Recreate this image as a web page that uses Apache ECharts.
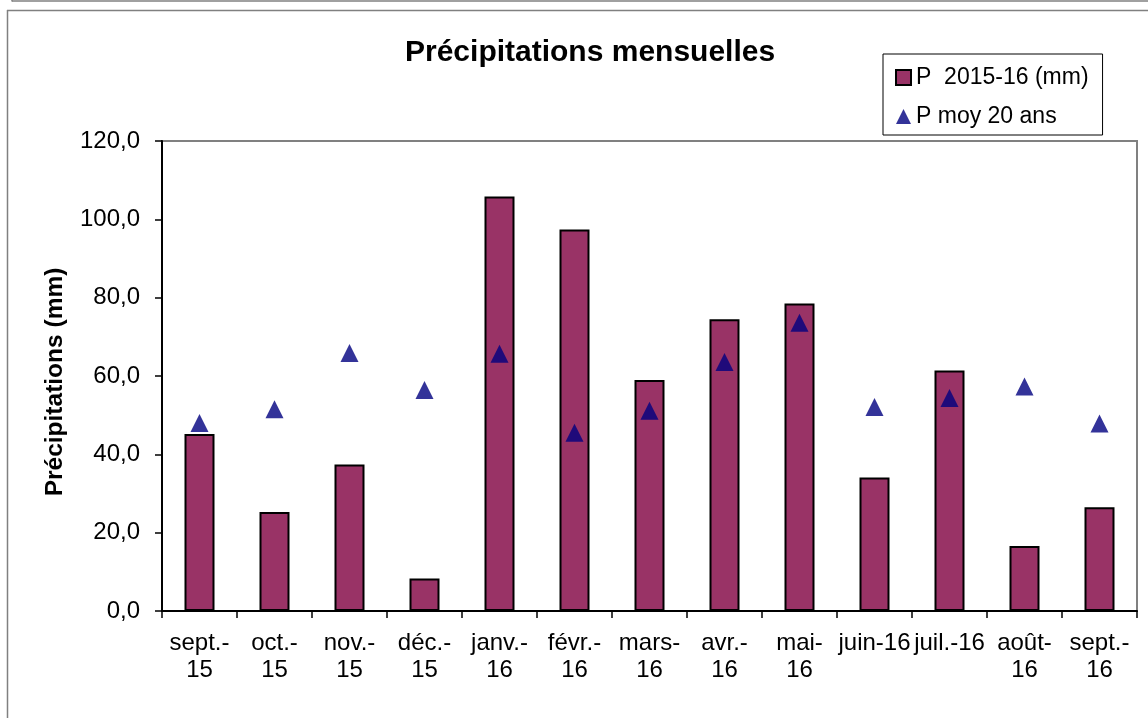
<!DOCTYPE html>
<html>
<head>
<meta charset="utf-8">
<script src="https://cdn.jsdelivr.net/npm/echarts@6/dist/echarts.min.js"></script>
<style>
html,body{margin:0;padding:0;background:#fff;}
#chart{width:1148px;height:718px;}
</style>
</head>
<body>
<div id="chart"></div>
<script>
var categories = ['sept.-\n15','oct.-\n15','nov.-\n15','déc.-\n15','janv.-\n16','févr.-\n16','mars-\n16','avr.-\n16','mai-\n16','juin-16','juil.-16','août-\n16','sept.-\n16'];
var precip2015_16 = [45.2, 25.3, 37.4, 8.3, 105.8, 97.4, 59.0, 74.5, 78.5, 34.1, 61.4, 16.6, 26.5];
var moy20ans = [48.0, 51.5, 65.9, 56.4, 65.7, 45.5, 51.1, 63.6, 73.6, 52.1, 54.4, 57.3, 47.9];
var titleText = 'Précipitations mensuelles';
var yAxisName = 'Précipitations (mm)';
var seriesNames = ['P  2015-16 (mm)', 'P moy 20 ans'];

var font = '"Liberation Sans", Arial, sans-serif';
var chart = echarts.init(document.getElementById('chart'));
chart.setOption({
  backgroundColor: '#fff',
  animation: false,
  title: {
    text: titleText,
    left: 400,
    top: 33,
    textStyle: {fontFamily: font, fontSize: 30, fontWeight: 'bold', color: '#000'}
  },
  legend: {
    orient: 'vertical',
    left: 883,
    top: 54,
    padding: [12, 14, 7, 12],
    itemGap: 16,
    itemWidth: 15,
    itemHeight: 15,
    borderColor: '#000',
    borderWidth: 1,
    textStyle: {fontFamily: font, fontSize: 23, color: '#000', lineHeight: 22},
    data: [
      {name: seriesNames[0], icon: 'rect'},
      {name: seriesNames[1], icon: 'triangle'}
    ]
  },
  grid: {
    left: 162, top: 141, right: 11, bottom: 107,
    show: true, borderColor: '#808080', borderWidth: 2, backgroundColor: '#fff'
  },
  xAxis: {
    type: 'category',
    data: categories,
    boundaryGap: true,
    axisLine: {lineStyle: {color: '#000', width: 2}},
    axisTick: {show: true, interval: 0, length: 7, lineStyle: {color: '#000', width: 1.5}},
    axisLabel: {interval: 0, margin: 19, fontFamily: font, fontSize: 24, color: '#000', lineHeight: 27}
  },
  yAxis: {
    type: 'value',
    min: 0, max: 120, interval: 20,
    name: yAxisName,
    nameLocation: 'middle',
    nameRotate: 90,
    nameGap: 94,
    nameTextStyle: {fontFamily: font, fontSize: 24.5, fontWeight: 'bold', color: '#000', padding: [0, 12, 0, 0]},
    splitLine: {show: false},
    axisLine: {show: true, lineStyle: {color: '#000', width: 2}},
    axisTick: {show: true, length: 7, lineStyle: {color: '#000', width: 1.5}},
    axisLabel: {
      margin: 22, fontFamily: font, fontSize: 24, color: '#000',
      formatter: function (v) { return v.toFixed(1).replace('.', ','); }
    }
  },
  series: [
    {
      name: seriesNames[0],
      type: 'bar',
      data: precip2015_16,
      barWidth: '40%',
      itemStyle: {color: '#993366', borderColor: '#000', borderWidth: 2}
    },
    {
      name: seriesNames[1],
      type: 'scatter',
      data: moy20ans,
      symbol: 'triangle',
      symbolSize: 18,
      itemStyle: {color: '#000080'},
      z: 5
    }
  ],
  graphic: [
    {type: 'line', shape: {x1: 12, y1: 1, x2: 1148, y2: 1}, style: {stroke: '#808080', lineWidth: 1.5}, silent: true},
    {type: 'line', shape: {x1: 12, y1: 0, x2: 12, y2: 1.5}, style: {stroke: '#808080', lineWidth: 1.5}, silent: true},
    {type: 'line', shape: {x1: 7, y1: 10.5, x2: 1148, y2: 10.5}, style: {stroke: '#808080', lineWidth: 1.5}, silent: true},
    {type: 'line', shape: {x1: 7.5, y1: 10, x2: 7.5, y2: 718}, style: {stroke: '#808080', lineWidth: 1.5}, silent: true}
  ]
});
</script>
</body>
</html>
